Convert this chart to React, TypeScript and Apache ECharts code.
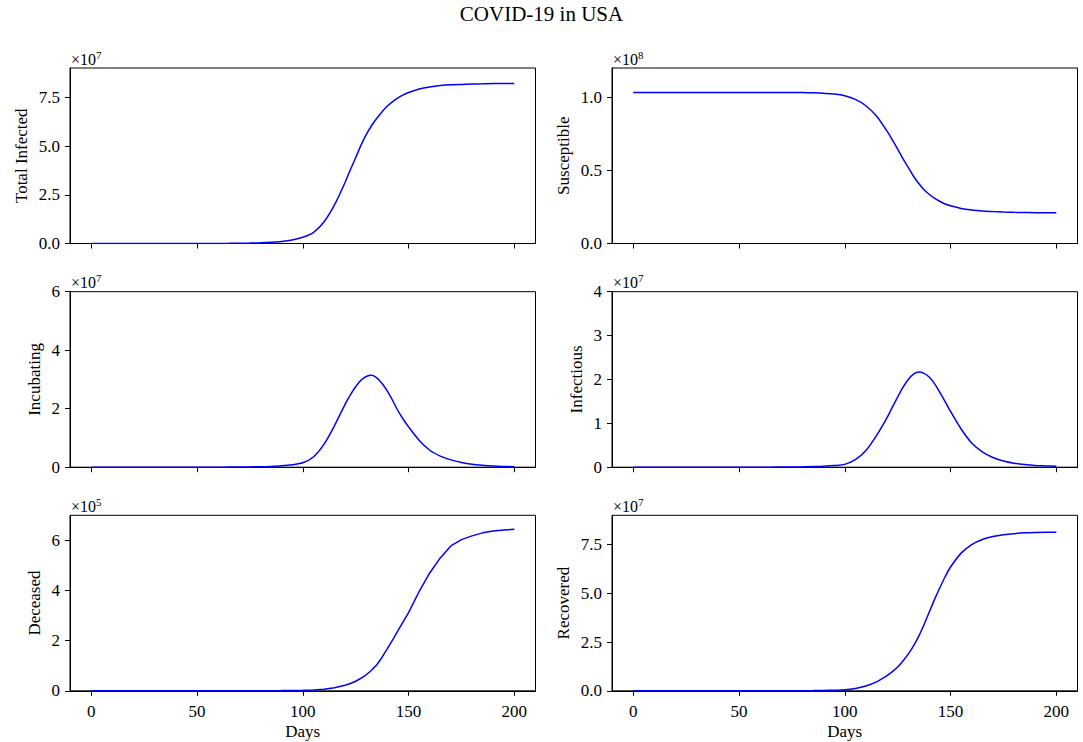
import React, { useEffect, useRef } from "react";
import * as echarts from "echarts";

// Days (x values)
const days = [
  0, 5, 10, 15, 20, 25, 30, 35, 40, 45, 50, 55, 60, 65, 70, 75, 80, 85, 90, 95,
  100, 105, 110, 115,
  120, 122.5, 125, 127.5, 130, 132.5, 135, 137.5, 140, 142.5, 145, 147.5, 150,
  155, 160, 165, 170, 175, 180, 185, 190, 195, 200,
];

// Total Infected, in units of 1e7
const totalInfected = [
  0.00001, 0.00001, 0.00002, 0.00003, 0.00005, 0.00009, 0.00015, 0.00026, 0.00045, 0.00077,
  0.0013, 0.0023, 0.004, 0.007, 0.012, 0.021, 0.036, 0.062, 0.107, 0.185,
  0.32, 0.56, 1.1, 1.98,
  3.13, 3.78, 4.4, 5.03, 5.58, 6.04, 6.42, 6.76, 7.05, 7.28, 7.47, 7.62, 7.74,
  7.92, 8.03, 8.1, 8.14, 8.16, 8.18, 8.19, 8.2, 8.2, 8.2,
];

// Susceptible, in units of 1e8
const susceptible = [
  1.033, 1.033, 1.033, 1.033, 1.033, 1.033, 1.033, 1.033, 1.033, 1.033,
  1.033, 1.033, 1.033, 1.033, 1.033, 1.033, 1.032, 1.03, 1.027, 1.022,
  1.01, 0.985, 0.942, 0.872,
  0.768, 0.708, 0.645, 0.58, 0.52, 0.46, 0.41, 0.367, 0.335, 0.308, 0.288, 0.27, 0.258,
  0.24, 0.229, 0.222, 0.218, 0.215, 0.213, 0.212, 0.211, 0.211, 0.211,
];

// Incubating, in units of 1e7
const incubating = [
  0.00001, 0.00001, 0.00001, 0.00002, 0.00003, 0.00004, 0.00007, 0.00012, 0.0002, 0.00035,
  0.0006, 0.001, 0.0017, 0.003, 0.005, 0.009, 0.016, 0.028, 0.048, 0.085,
  0.15, 0.35, 0.78, 1.42,
  2.15, 2.47, 2.75, 2.97, 3.1, 3.14, 3.056, 2.86, 2.6, 2.28, 1.93, 1.64, 1.38,
  0.92, 0.58, 0.38, 0.25, 0.16, 0.1, 0.065, 0.04, 0.025, 0.015,
];

// Infectious, in units of 1e7
const infectious = [
  0.00001, 0.00001, 0.00001, 0.00001, 0.00002, 0.00003, 0.00005, 0.00008, 0.00013, 0.0002,
  0.00035, 0.0006, 0.001, 0.0017, 0.003, 0.005, 0.008, 0.014, 0.022, 0.037,
  0.065, 0.17, 0.38, 0.72,
  1.13, 1.37, 1.6, 1.82, 2.0, 2.12, 2.17, 2.14, 2.05, 1.9, 1.7, 1.49, 1.27,
  0.87, 0.55, 0.35, 0.22, 0.14, 0.09, 0.06, 0.04, 0.03, 0.02,
];

// Deceased, in units of 1e5
const deceased = [
  0, 0, 0, 0, 0, 0, 0, 0, 0, 0,
  0, 0, 0.0005, 0.001, 0.0015, 0.002, 0.003, 0.005, 0.007, 0.012,
  0.02, 0.035, 0.06, 0.12,
  0.22, 0.29, 0.38, 0.5, 0.64, 0.82, 1.04, 1.34, 1.68, 2.03, 2.4, 2.76, 3.12,
  3.96, 4.7, 5.3, 5.78, 6.03, 6.18, 6.3, 6.37, 6.41, 6.44,
];

// Recovered, in units of 1e7
const recovered = [
  0, 0, 0, 0, 0, 0, 0, 0, 0, 0.0001,
  0.0002, 0.0004, 0.0007, 0.0012, 0.002, 0.0035, 0.006, 0.01, 0.018, 0.03,
  0.05, 0.12, 0.25, 0.46,
  0.78, 0.98, 1.22, 1.53, 1.88, 2.3, 2.8, 3.4, 4.05, 4.7, 5.3, 5.86, 6.35,
  7.06, 7.5, 7.76, 7.91, 8.0, 8.06, 8.1, 8.12, 8.13, 8.13,
];

const xTicks = [0, 50, 100, 150, 200];

const labels = ["Total Infected", "Susceptible", "Incubating", "Infectious", "Deceased", "Recovered"];
const seriesData = [totalInfected, susceptible, incubating, infectious, deceased, recovered];
const exponents = ["7", "8", "7", "7", "5", "7"];
const yMax = [9.0, 1.2, 6, 4, 7, 9.0];
const yTicks = [
  [0, 2.5, 5, 7.5],
  [0, 0.5, 1.0],
  [0, 2, 4, 6],
  [0, 1, 2, 3, 4],
  [0, 2, 4, 6],
  [0, 2.5, 5, 7.5],
];
const yDecimals = [1, 1, 0, 0, 0, 1];
const smoothFlags = [0.3, 0.3, 0.3, 0.3, false, 0.3];

const FONT = "'Liberation Serif', 'DejaVu Serif', serif";
const LEFTS = [70, 612];
const TOPS = [68, 291.7, 515.3];
const W = 465.5;
const H = 175.5;
const NAME_GAPS = [40, 40, 27, 27, 27, 40];

export default function App() {
  const ref = useRef<HTMLDivElement>(null);

  useEffect(() => {
    document.body.style.margin = "0";
    if (!ref.current) return;
    const chart = echarts.init(ref.current, null, { renderer: "svg" });

    const grids = labels.map((_, i) => ({
      left: LEFTS[i % 2],
      top: TOPS[Math.floor(i / 2)],
      width: W,
      height: H,
      show: true,
      borderColor: "#000",
      borderWidth: 1,
      backgroundColor: "transparent",
    }));

    const xAxes = labels.map((_, i) => ({
      type: "value",
      gridIndex: i,
      min: -10,
      max: 210,
      axisLine: { show: true, onZero: false, lineStyle: { color: "#000", width: 1 } },
      axisTick: { show: true, inside: false, length: 5, customValues: xTicks, lineStyle: { color: "#000", width: 1 } },
      axisLabel: {
        show: i >= 4,
        customValues: xTicks,
        color: "#000",
        fontFamily: FONT,
        fontSize: 17,
        margin: 12,
      },
      splitLine: { show: false },
      name: i >= 4 ? "Days" : "",
      nameLocation: "middle",
      nameGap: 32,
      nameTextStyle: { color: "#000", fontFamily: FONT, fontSize: 17 },
    }));

    const yAxes = labels.map((lab, i) => ({
      type: "value",
      gridIndex: i,
      min: 0,
      max: yMax[i],
      axisLine: { show: true, onZero: false, lineStyle: { color: "#000", width: 1 } },
      axisTick: { show: true, inside: false, length: 5, customValues: yTicks[i], lineStyle: { color: "#000", width: 1 } },
      axisLabel: {
        show: true,
        customValues: yTicks[i],
        color: "#000",
        fontFamily: FONT,
        fontSize: 17,
        margin: 10,
        formatter: (v: number) => v.toFixed(yDecimals[i]),
      },
      splitLine: { show: false },
      name: lab,
      nameLocation: "middle",
      nameGap: NAME_GAPS[i],
      nameRotate: 90,
      nameTextStyle: { color: "#000", fontFamily: FONT, fontSize: 17 },
    }));

    const series = labels.map((lab, i) => ({
      type: "line",
      name: lab,
      xAxisIndex: i,
      yAxisIndex: i,
      data: days.map((d, k) => [d, seriesData[i][k]]),
      showSymbol: false,
      symbol: "none",
      smooth: smoothFlags[i],
      lineStyle: { color: "#0000ff", width: 1.5 },
      itemStyle: { color: "#0000ff" },
    }));

    const titles: any[] = [
      {
        text: "COVID-19 in USA",
        left: "center",
        top: 3,
        padding: 0,
        textStyle: { color: "#000", fontFamily: FONT, fontSize: 21, fontWeight: "normal" },
      },
    ];
    labels.forEach((_, i) => {
      titles.push({
        text: "{a|×10}{b|" + exponents[i] + "}",
        left: LEFTS[i % 2] + 1,
        top: TOPS[Math.floor(i / 2)] - 19,
        padding: 0,
        textStyle: {
          fontWeight: "normal",
          rich: {
            a: { color: "#000", fontFamily: FONT, fontSize: 16, fontWeight: "normal", lineHeight: 18, verticalAlign: "bottom" },
            b: { color: "#000", fontFamily: FONT, fontSize: 11, fontWeight: "normal", lineHeight: 18, verticalAlign: "top" },
          },
        },
      });
    });

    chart.setOption({
      animation: false,
      backgroundColor: "#fff",
      title: titles,
      grid: grids,
      xAxis: xAxes,
      yAxis: yAxes,
      series,
    });

    return () => chart.dispose();
  }, []);

  return <div ref={ref} style={{ width: 1083, height: 742 }} />;
}
